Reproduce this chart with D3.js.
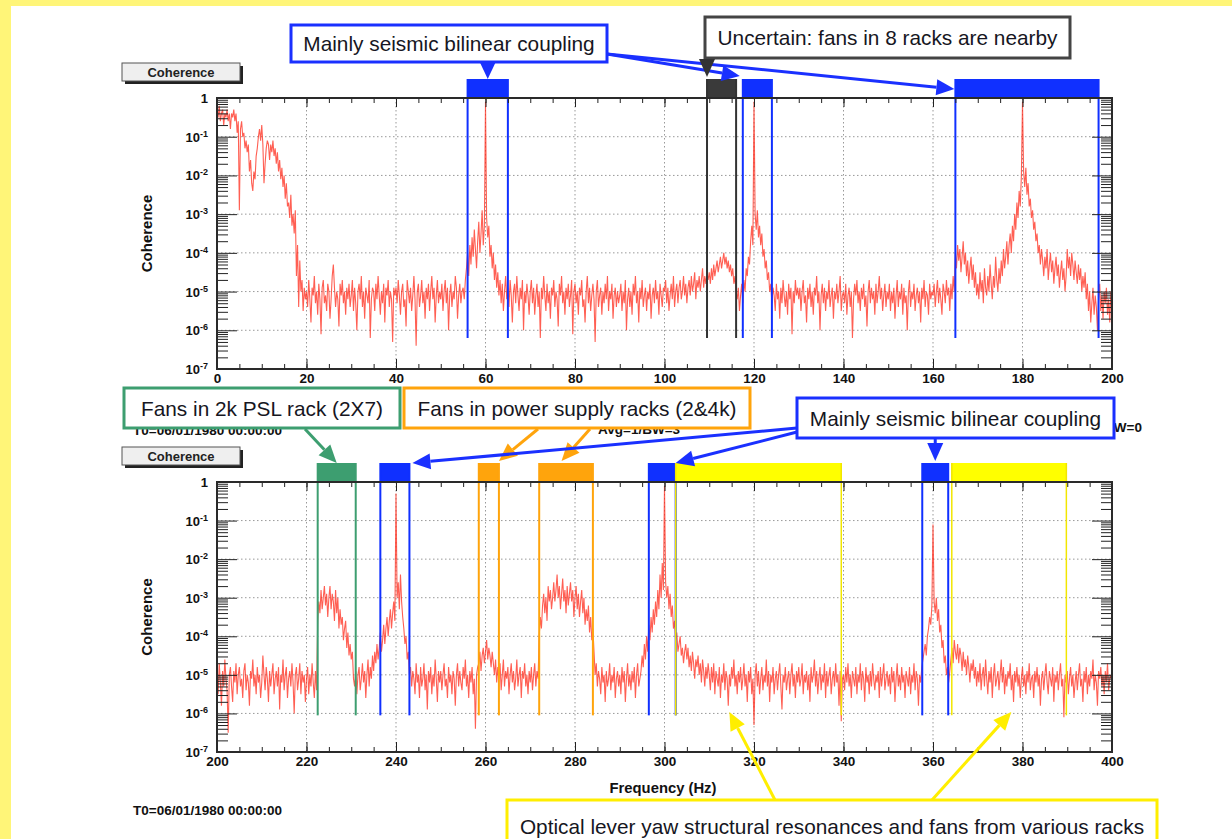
<!DOCTYPE html>
<html>
<head>
<meta charset="utf-8">
<script src="https://cdn.jsdelivr.net/npm/d3@7"></script>
<style>
  body { margin: 0; background: #fff; }
  svg { display: block; font-family: "Liberation Sans", Arial, Helvetica, sans-serif; }
</style>
</head>
<body>
<svg id="chart" width="1232" height="839"></svg>
<script>
// ---- data ----
// coherence as 10*log10(value), one sample every 0.25 Hz (10 Hz per row)
var freqStep = 0.25;
var topStart = 0;
var bottomStart = 200;

var topCohTenths = [
  -3,-5,-2,-6,-4,-3,-7,-4,-5,-3,-6,-4,-8,-4,-5,-3,-6,-4,-9,-6,-29,-8,-6,-10,-9,-13,-11,-14,-12,-19,-16,-22,-24,-19,-21,-15,-13,-10,-8,-11,
  -7,-12,-22,-17,-13,-11,-12,-16,-12,-14,-11,-15,-13,-17,-14,-19,-16,-21,-18,-23,-20,-26,-22,-28,-27,-31,-25,-33,-30,-35,-29,-46,-38,-54,-42,-50,-47,-55,-49,-52,
  -50,-54,-47,-52,-58,-49,-51,-46,-53,-50,-56,-48,-52,-61,-49,-47,-53,-51,-55,-48,-50,-57,-52,-46,-43,-49,-54,-50,-52,-59,-48,-51,-47,-53,-50,-56,-49,-52,-48,-54,
  -51,-47,-55,-49,-53,-60,-50,-48,-52,-46,-54,-50,-57,-49,-51,-53,-47,-62,-52,-49,-50,-55,-48,-52,-46,-51,-56,-50,-53,-48,-58,-49,-51,-47,-54,-50,-52,-63,-49,-51,
  -49,-53,-47,-51,-56,-50,-48,-54,-52,-59,-47,-50,-53,-49,-55,-51,-46,-52,-64,-50,-48,-54,-51,-47,-53,-50,-57,-49,-52,-48,-55,-50,-46,-52,-49,-58,-51,-47,-53,-50,
  -52,-48,-55,-50,-47,-53,-49,-60,-51,-48,-54,-50,-52,-46,-49,-57,-51,-48,-53,-50,-49,-52,-47,-44,-40,-46,-38,-43,-36,-41,-34,-39,-44,-37,-32,-40,-35,-29,-38,-33,
  -1,-31,-36,-33,-41,-38,-44,-40,-47,-43,-49,-45,-51,-47,-53,-48,-55,-50,-46,-52,-49,-54,-47,-51,-58,-50,-48,-53,-46,-51,-55,-49,-52,-47,-60,-50,-53,-48,-51,-56,
  -50,-47,-53,-49,-56,-51,-48,-54,-50,-62,-49,-52,-46,-51,-55,-48,-53,-50,-57,-49,-51,-47,-54,-50,-52,-59,-48,-51,-46,-53,-50,-56,-49,-52,-48,-54,-51,-47,-61,-50,
  -48,-53,-50,-56,-49,-51,-47,-54,-52,-58,-50,-46,-53,-49,-55,-51,-48,-52,-63,-50,-47,-54,-51,-49,-56,-50,-53,-48,-52,-46,-55,-50,-52,-48,-57,-51,-49,-54,-50,-53,
  -51,-48,-55,-50,-53,-47,-60,-52,-49,-54,-50,-56,-48,-51,-46,-53,-50,-58,-49,-52,-47,-54,-51,-49,-55,-50,-52,-48,-57,-51,-49,-53,-47,-52,-50,-56,-48,-51,-54,-49,
  -50,-47,-53,-49,-55,-51,-48,-52,-46,-54,-50,-48,-53,-49,-47,-52,-50,-46,-51,-48,-53,-49,-47,-51,-46,-50,-48,-45,-52,-47,-49,-46,-50,-47,-44,-49,-46,-48,-45,-47,
  -45,-48,-44,-47,-43,-46,-44,-42,-45,-43,-41,-44,-42,-40,-43,-41,-44,-42,-45,-43,-46,-44,-48,-46,-50,-52,-49,-55,-51,-48,-53,-47,-50,-44,-46,-41,-43,-37,-33,-38,
  -1,-30,-34,-29,-36,-33,-38,-35,-41,-39,-44,-42,-47,-45,-50,-48,-53,-49,-51,-55,-48,-52,-50,-57,-49,-53,-47,-51,-54,-50,-56,-48,-52,-49,-61,-50,-53,-47,-51,-49,
  -52,-49,-55,-50,-47,-53,-51,-58,-49,-52,-48,-54,-50,-56,-49,-51,-46,-53,-50,-60,-51,-48,-53,-49,-55,-50,-52,-47,-54,-51,-49,-57,-50,-52,-48,-53,-50,-46,-55,-51,
  -50,-53,-48,-56,-51,-49,-54,-50,-62,-52,-48,-51,-47,-53,-50,-55,-49,-52,-48,-54,-51,-59,-50,-47,-53,-49,-52,-50,-56,-48,-53,-50,-46,-52,-49,-55,-51,-48,-54,-50,
  -52,-48,-55,-50,-53,-49,-57,-51,-47,-54,-50,-52,-48,-56,-49,-53,-51,-60,-50,-47,-54,-50,-52,-48,-55,-51,-49,-53,-50,-58,-49,-52,-47,-54,-50,-51,-56,-48,-52,-50,
  -51,-48,-54,-50,-47,-53,-49,-52,-56,-48,-50,-53,-47,-51,-49,-55,-48,-52,-46,-50,-40,-44,-38,-42,-39,-45,-41,-37,-43,-40,-46,-42,-48,-44,-41,-47,-43,-49,-45,-51,
  -48,-52,-45,-50,-47,-53,-44,-49,-51,-46,-50,-43,-48,-52,-46,-49,-41,-47,-50,-44,-48,-42,-46,-39,-44,-41,-37,-43,-38,-35,-40,-33,-37,-30,-34,-27,-31,-24,-28,-20,
  -1,-19,-23,-18,-25,-22,-28,-26,-31,-29,-34,-32,-37,-35,-40,-38,-43,-39,-42,-46,-41,-44,-39,-47,-43,-40,-45,-42,-48,-44,-41,-46,-43,-49,-45,-42,-47,-44,-50,-46,
  -39,-44,-41,-46,-40,-43,-47,-42,-45,-48,-43,-47,-44,-50,-46,-49,-45,-52,-48,-55,-50,-58,-53,-49,-56,-51,-54,-60,-52,-48,-55,-51,-57,-50,-53,-49,-56,-52,-58,-50,
  -53
];

var bottomCohTenths = [
  -50,-55,-47,-52,-58,-49,-53,-46,-51,-54,-65,-50,-48,-53,-57,-49,-52,-47,-55,-50,-48,-53,-51,-56,-49,-47,-54,-50,-52,-58,-49,-51,-46,-53,-50,-55,-48,-52,-50,-56,
  -52,-45,-50,-54,-48,-51,-57,-49,-53,-50,-47,-55,-51,-49,-53,-48,-59,-50,-52,-46,-54,-50,-48,-56,-51,-49,-53,-47,-52,-60,-50,-48,-54,-51,-47,-55,-49,-52,-50,-57,
  -51,-48,-55,-50,-53,-47,-52,-56,-49,-54,-36,-31,-34,-28,-33,-30,-27,-32,-29,-35,-30,-27,-33,-29,-31,-36,-28,-34,-30,-38,-33,-37,-35,-41,-38,-36,-43,-39,-45,-42,
  -46,-44,-51,-53,-49,-55,-50,-48,-54,-51,-47,-52,-49,-56,-50,-46,-53,-48,-51,-45,-49,-44,-47,-42,-46,-43,-39,-44,-41,-37,-42,-38,-35,-40,-36,-33,-38,-34,-31,-36,
  -3,-30,-26,-33,-24,-31,-35,-38,-42,-40,-46,-44,-50,-48,-53,-49,-51,-55,-47,-52,-50,-56,-48,-53,-51,-47,-54,-50,-59,-49,-52,-48,-55,-50,-53,-46,-51,-57,-49,-52,
  -49,-54,-50,-47,-53,-51,-56,-48,-52,-50,-55,-49,-51,-58,-50,-47,-53,-49,-52,-54,-48,-51,-46,-53,-50,-56,-49,-52,-48,-55,-51,-64,-50,-48,-47,-44,-49,-45,-43,-47,
  -44,-41,-46,-43,-45,-48,-44,-47,-50,-46,-52,-48,-51,-47,-54,-50,-46,-53,-49,-51,-48,-55,-50,-47,-52,-49,-54,-51,-46,-53,-50,-48,-56,-49,-51,-47,-53,-50,-55,-49,
  -52,-48,-54,-50,-47,-53,-49,-51,-40,-35,-38,-32,-29,-34,-30,-36,-27,-31,-28,-33,-30,-26,-31,-28,-24,-30,-27,-33,-29,-25,-31,-28,-34,-27,-32,-29,-26,-31,-28,-35,
  -30,-27,-33,-29,-35,-31,-28,-34,-30,-37,-33,-36,-32,-39,-35,-41,-38,-44,-50,-47,-53,-49,-51,-55,-48,-52,-50,-57,-49,-53,-51,-47,-54,-50,-52,-48,-56,-51,-49,-53,
  -50,-55,-48,-52,-49,-57,-51,-47,-53,-50,-54,-49,-52,-48,-56,-50,-47,-53,-51,-49,-45,-48,-42,-46,-40,-44,-37,-41,-35,-39,-33,-37,-31,-35,-28,-33,-24,-30,-21,-28,
  -1,-26,-30,-27,-33,-29,-35,-32,-38,-36,-41,-39,-44,-42,-40,-45,-43,-47,-44,-42,-46,-43,-48,-45,-49,-44,-47,-51,-46,-48,-45,-50,-47,-52,-46,-49,-53,-48,-51,-47,
  -50,-54,-48,-52,-47,-55,-49,-51,-53,-48,-56,-50,-52,-47,-54,-49,-51,-58,-50,-53,-48,-51,-46,-53,-50,-55,-49,-52,-48,-54,-51,-47,-53,-50,-57,-49,-52,-48,-55,-51,
  -63,-50,-47,-53,-49,-55,-51,-48,-54,-50,-52,-46,-53,-49,-57,-50,-52,-48,-55,-51,-49,-54,-50,-47,-53,-59,-50,-52,-48,-54,-51,-49,-55,-50,-47,-53,-50,-56,-49,-52,
  -48,-53,-51,-47,-55,-50,-52,-49,-54,-50,-57,-48,-52,-50,-46,-53,-49,-55,-51,-48,-54,-50,-52,-47,-56,-49,-53,-50,-48,-55,-51,-49,-53,-47,-52,-50,-58,-49,-62,-51,
  -50,-54,-48,-52,-47,-53,-50,-56,-49,-51,-53,-48,-55,-50,-52,-47,-54,-49,-51,-57,-48,-52,-50,-55,-49,-53,-47,-51,-54,-50,-52,-49,-56,-48,-53,-50,-47,-54,-51,-49,
  -53,-50,-55,-48,-52,-49,-57,-51,-47,-53,-50,-54,-48,-52,-50,-56,-49,-51,-53,-48,-55,-50,-52,-47,-54,-49,-51,-58,-50,-52,-48,-46,-44,-42,-45,-40,-38,-35,-37,-32,
  -11,-31,-34,-30,-36,-33,-39,-37,-43,-41,-47,-45,-50,-48,-52,-49,-46,-43,-47,-41,-44,-46,-42,-47,-43,-45,-49,-44,-48,-46,-50,-45,-48,-52,-47,-49,-46,-51,-48,-53,
  -49,-52,-47,-54,-50,-48,-53,-46,-51,-55,-49,-52,-48,-56,-50,-47,-53,-51,-49,-54,-50,-46,-52,-48,-55,-50,-53,-49,-51,-47,-54,-50,-57,-49,-52,-48,-53,-50,-56,-51,
  -48,-53,-50,-55,-49,-52,-47,-54,-51,-50,-56,-49,-52,-48,-53,-50,-58,-51,-49,-54,-50,-47,-52,-55,-49,-51,-53,-48,-57,-50,-52,-49,-54,-50,-47,-53,-51,-61,-50,-52,
  -49,-55,-51,-48,-53,-50,-56,-52,-49,-54,-50,-47,-53,-51,-57,-49,-52,-48,-55,-50,-53,-49,-51,-46,-54,-50,-52,-58,-49,-51,-48,-53,-50,-55,-49,-52,-47,-54,-51,-50,
  -52
];

var xTicksTop = [0, 20, 40, 60, 80, 100, 120, 140, 160, 180, 200];
var xTicksBottom = [200, 220, 240, 260, 280, 300, 320, 340, 360, 380, 400];
var yDecades = [-7, -6, -5, -4, -3, -2, -1, 0];

// frequency bands marked above each panel: [from Hz, to Hz, source]
var topBands = [
  [56, 65, 'seismic'],
  [109.5, 116, 'uncertain'],
  [117.5, 124, 'seismic'],
  [165, 197, 'seismic']
];
var bottomBands = [
  [222.5, 231, 'psl'],
  [236.5, 243, 'seismic'],
  [258.5, 263, 'power'],
  [272, 284, 'power'],
  [296.5, 302.5, 'seismic'],
  [302.5, 339.5, 'oplev'],
  [357.6, 363.4, 'seismic'],
  [364.2, 389.8, 'oplev']
];

// ---- styles ----
var bandColor = { seismic: '#1030ff', uncertain: '#3a3a3a', psl: '#3d9e70', power: '#ffa40c', oplev: '#ffff00' };
var bandLineColor = { seismic: '#1030ff', uncertain: '#333', psl: '#3d9e70', power: '#ffa40c', oplev: '#f2e600' };
var traceColor = '#ff2a1a';
var axisColor = '#222';
var rootFont = 'bold';
var noteFontSize = 20.8;

var svg = d3.select('#chart');
var width = 1232, height = 839;

// background + yellow slide border
svg.append('rect').attr('width', width).attr('height', height).attr('fill', '#fff');
svg.append('rect').attr('width', 11).attr('height', height).attr('fill', '#fff578');
svg.append('rect').attr('width', width).attr('height', 6).attr('fill', '#fff578');

function drawPanel(p) {
  var x = d3.scaleLinear().domain([p.ticks[0], p.ticks[p.ticks.length - 1]]).range([p.left, p.right]);
  var y = d3.scaleLog().domain([1e-7, 1]).range([p.bottom, p.top]);
  var g = svg.append('g');

  // "Coherence" button
  g.append('rect').attr('x', 125).attr('y', p.top - 32).attr('width', 118).attr('height', 18).attr('fill', '#222');
  g.append('rect').attr('x', 122).attr('y', p.top - 35).attr('width', 118).attr('height', 18)
    .attr('fill', '#efefef').attr('stroke', '#555').attr('stroke-width', 1);
  g.append('text').attr('x', 181).attr('y', p.top - 21.5).attr('text-anchor', 'middle')
    .attr('font-size', 13).attr('font-weight', rootFont).attr('fill', '#222').text('Coherence');

  // grid
  g.selectAll('line.gx').data(p.ticks.slice(1, -1)).enter().append('line')
    .attr('x1', x).attr('x2', x).attr('y1', p.top).attr('y2', p.bottom)
    .attr('stroke', '#999').attr('stroke-dasharray', '1.5,2.5');
  g.selectAll('line.gy').data(yDecades.slice(1, -1)).enter().append('line')
    .attr('x1', p.left).attr('x2', p.right)
    .attr('y1', function (d) { return y(Math.pow(10, d)); })
    .attr('y2', function (d) { return y(Math.pow(10, d)); })
    .attr('stroke', '#999').attr('stroke-dasharray', '1.5,2.5');

  // trace
  var clipId = 'clip' + p.id;
  svg.append('clipPath').attr('id', clipId).append('rect')
    .attr('x', p.left).attr('y', p.top).attr('width', p.right - p.left).attr('height', p.bottom - p.top);
  var line = d3.line()
    .x(function (d, i) { return x(p.start + i * freqStep); })
    .y(function (d) { return y(Math.pow(10, d / 10)); });
  g.append('path').datum(p.values).attr('clip-path', 'url(#' + clipId + ')')
    .attr('d', line).attr('fill', 'none').attr('stroke', traceColor)
    .attr('stroke-width', 1.1).attr('stroke-opacity', 0.75);

  // bands + their edge lines
  var bandTop = p.top - 19;
  var bands = g.selectAll('g.band').data(p.bands).enter().append('g');
  bands.append('rect')
    .attr('x', function (d) { return x(d[0]); })
    .attr('y', bandTop)
    .attr('width', function (d) { return x(d[1]) - x(d[0]); })
    .attr('height', p.top - bandTop)
    .attr('fill', function (d) { return bandColor[d[2]]; });
  [0, 1].forEach(function (k) {
    bands.append('line')
      .attr('x1', function (d) { return x(d[k]); })
      .attr('x2', function (d) { return x(d[k]); })
      .attr('y1', bandTop).attr('y2', y(Math.pow(10, p.lineEnd)))
      .attr('stroke', function (d) { return bandLineColor[d[2]]; })
      .attr('stroke-width', function (d) { return d[2] === 'oplev' ? 1.5 : 2; });
  });

  // axes (ticks inside the frame)
  var minorX = d3.range(p.ticks[0], p.ticks[p.ticks.length - 1] + 0.1, 5);
  var minorY = [];
  yDecades.slice(0, -1).forEach(function (d) {
    for (var m = 2; m < 10; m++) { minorY.push(m * Math.pow(10, d)); }
  });
  var majorY = yDecades.map(function (d) { return Math.pow(10, d); });

  function clean(sel) {
    sel.select('.domain').remove();
    sel.selectAll('line').attr('stroke', axisColor);
  }
  g.append('g').attr('transform', 'translate(0,' + p.bottom + ')')
    .call(d3.axisBottom(x).tickValues(minorX).tickSize(-5).tickFormat('')).call(clean);
  g.append('g').attr('transform', 'translate(0,' + p.bottom + ')')
    .call(d3.axisBottom(x).tickValues(p.ticks).tickSize(-10).tickPadding(4).tickFormat(d3.format('d')))
    .call(clean)
    .selectAll('text').attr('font-size', 13.5).attr('font-weight', rootFont).attr('fill', '#111')
    .attr('font-family', '"Liberation Sans", Arial, sans-serif');
  g.append('g').attr('transform', 'translate(0,' + p.top + ')')
    .call(d3.axisTop(x).tickValues(minorX).tickSize(-5).tickFormat('')).call(clean);
  g.append('g').attr('transform', 'translate(0,' + p.top + ')')
    .call(d3.axisTop(x).tickValues(p.ticks).tickSize(-9).tickFormat('')).call(clean);
  g.append('g').attr('transform', 'translate(' + p.left + ',0)')
    .call(d3.axisLeft(y).tickValues(minorY).tickSize(-11).tickFormat('')).call(clean);
  g.append('g').attr('transform', 'translate(' + p.left + ',0)')
    .call(d3.axisLeft(y).tickValues(majorY).tickSize(-20).tickFormat('')).call(clean);
  g.append('g').attr('transform', 'translate(' + p.right + ',0)')
    .call(d3.axisRight(y).tickValues(minorY).tickSize(-11).tickFormat('')).call(clean);
  g.append('g').attr('transform', 'translate(' + p.right + ',0)')
    .call(d3.axisRight(y).tickValues(majorY).tickSize(-20).tickFormat('')).call(clean);

  // y labels: 1, 10^-1 ...
  var yl = g.selectAll('text.ylab').data(yDecades).enter().append('text')
    .attr('x', p.left - 9).attr('y', function (d) { return y(Math.pow(10, d)) + 5; })
    .attr('text-anchor', 'end').attr('font-size', 13).attr('font-weight', rootFont).attr('fill', '#111');
  yl.each(function (d) {
    var t = d3.select(this);
    if (d === 0) { t.text('1'); return; }
    t.append('tspan').text('10');
    t.append('tspan').attr('dy', -5).attr('font-size', 9).text(String(d));
  });

  // frame
  g.append('rect').attr('x', p.left).attr('y', p.top)
    .attr('width', p.right - p.left).attr('height', p.bottom - p.top)
    .attr('fill', 'none').attr('stroke', '#2a2a2a').attr('stroke-width', 2);

  // y title
  g.append('text').attr('transform', 'translate(152,' + ((p.top + p.bottom) / 2) + ') rotate(-90)')
    .attr('text-anchor', 'middle').attr('font-size', 15).attr('font-weight', rootFont).attr('fill', '#111')
    .text('Coherence');

  return { x: x, y: y, bandTop: bandTop };
}

var topPanel = drawPanel({
  id: 't', left: 217, right: 1112, top: 98, bottom: 369,
  ticks: xTicksTop, start: topStart, values: topCohTenths, bands: topBands, lineEnd: -6.2
});

// stats text of the lower pad (partly hidden by the notes)
svg.append('text').attr('x', 133).attr('y', 435).attr('font-size', 13.5).attr('font-weight', 'bold')
  .attr('fill', '#111').text('T0=06/01/1980 00:00:00');
svg.append('text').attr('x', 598).attr('y', 434).attr('font-size', 13.5).attr('font-weight', 'bold')
  .attr('fill', '#111').text('Avg=1/BW=3');
svg.append('text').attr('x', 1104).attr('y', 432).attr('font-size', 13.5).attr('font-weight', 'bold')
  .attr('fill', '#111').text('BW=0');

var bottomPanel = drawPanel({
  id: 'b', left: 217, right: 1112, top: 482, bottom: 752,
  ticks: xTicksBottom, start: bottomStart, values: bottomCohTenths, bands: bottomBands, lineEnd: -6.05
});

svg.append('text').attr('x', 663).attr('y', 793).attr('text-anchor', 'middle')
  .attr('font-size', 14.8).attr('font-weight', 'bold').attr('fill', '#111').text('Frequency (Hz)');
svg.append('text').attr('x', 133).attr('y', 815).attr('font-size', 13.5).attr('font-weight', 'bold')
  .attr('fill', '#111').text('T0=06/01/1980 00:00:00');

// ---- annotations ----
function noteBox(x0, y0, w, h, color, label) {
  svg.append('rect').attr('x', x0).attr('y', y0).attr('width', w).attr('height', h)
    .attr('fill', '#fff').attr('stroke', color).attr('stroke-width', 3);
  svg.append('text').attr('x', x0 + w / 2).attr('y', y0 + h / 2 + 7.5).attr('text-anchor', 'middle')
    .attr('font-size', noteFontSize).attr('fill', '#161622').text(label);
}

function arrow(x1, y1, x2, y2, color) {
  var dx = x2 - x1, dy = y2 - y1;
  var len = Math.sqrt(dx * dx + dy * dy);
  var ux = dx / len, uy = dy / len;
  var hl = Math.min(18, len), hw = 8;
  var bx = x2 - ux * hl, by = y2 - uy * hl;
  if (len > hl) {
    svg.append('line').attr('x1', x1).attr('y1', y1).attr('x2', bx).attr('y2', by)
      .attr('stroke', color).attr('stroke-width', 3);
  }
  svg.append('path')
    .attr('d', 'M' + x2 + ',' + y2 + 'L' + (bx - uy * hw) + ',' + (by + ux * hw) + 'L' + (bx + uy * hw) + ',' + (by - ux * hw) + 'Z')
    .attr('fill', color);
}

var tx = topPanel.x, bx = bottomPanel.x;
var blue = '#1a30ff';

// top pad
arrow(607, 54, tx(117.5) - 3, 76, blue);
arrow(607, 54, tx(165) - 1, 89, blue);
noteBox(291, 25, 316, 37, blue, 'Mainly seismic bilinear coupling');
arrow(tx(60.5), 62, tx(60.5), topPanel.bandTop, blue);
noteBox(705, 17, 365, 41, '#444', 'Uncertain: fans in 8 racks are nearby');
arrow(tx(109.5), 59, tx(109.5), topPanel.bandTop - 2, '#333');

// bottom pad
noteBox(124, 388, 276, 40, '#3d9e70', 'Fans in 2k PSL rack (2X7)');
arrow(305, 429, bx(226.75), bottomPanel.bandTop, '#3d9e70');
noteBox(404, 388, 346, 40, '#ffa40c', 'Fans in power supply racks (2&4k)');
arrow(538, 429, bx(263), bottomPanel.bandTop - 2, '#ffa40c');
arrow(590, 429, bx(277), bottomPanel.bandTop - 2, '#ffa40c');
arrow(797, 428, bx(243) + 3, bottomPanel.bandTop, blue);
arrow(797, 432, bx(302.5), bottomPanel.bandTop, blue);
noteBox(797, 398, 317, 40, blue, 'Mainly seismic bilinear coupling');
arrow(bx(360.5), 439, bx(360.5), bottomPanel.bandTop - 2, blue);

noteBox(507, 800, 650, 52, '#ffee00', 'Optical lever yaw structural resonances and fans from various racks');
arrow(775, 800, bx(314.5), 712, '#ffee00');
arrow(932, 800, bx(377.5), 712, '#ffee00');
</script>
</body>
</html>
